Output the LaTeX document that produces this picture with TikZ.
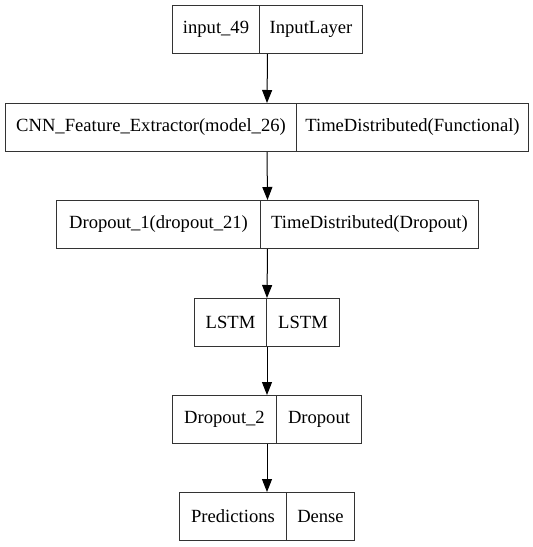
\documentclass[tikz,border=0pt]{standalone}
\usepackage{fontspec}
\setmainfont{Liberation Serif}
\usetikzlibrary{arrows.meta,calc}
\begin{document}
\begin{tikzpicture}[x=1pt,y=-1pt,
  cell/.style={draw=black!80, line width=1pt, minimum height=48pt, inner sep=0pt,
    anchor=north west, font=\fontsize{18.6}{20}\selectfont},
  arr/.style={draw=black, line width=1pt, -{Triangle[length=13pt,width=10pt]}}]
\useasboundingbox (0,0) rectangle (533,547);
% row 1
\node[cell, minimum width=87pt]  (a1) at (172,5) {input\_49};
\node[cell, minimum width=103pt] (a2) at (259,5) {InputLayer};
% row 2
\node[cell, minimum width=291pt] (b1) at (5,103) {CNN\_Feature\_Extractor(model\_26)};
\node[cell, minimum width=232pt] (b2) at (296,103) {TimeDistributed(Functional)};
% row 3
\node[cell, minimum width=204pt] (c1) at (56,200) {Dropout\_1(dropout\_21)};
\node[cell, minimum width=218pt] (c2) at (260,200) {TimeDistributed(Dropout)};
% row 4
\node[cell, minimum width=72pt]  (d1) at (194,298) {LSTM};
\node[cell, minimum width=73pt]  (d2) at (266,298) {LSTM};
% row 5
\node[cell, minimum width=104pt] (e1) at (172,395) {Dropout\_2};
\node[cell, minimum width=85pt]  (e2) at (276,395) {Dropout};
% row 6
\node[cell, minimum width=107pt] (f1) at (179,492) {Predictions};
\node[cell, minimum width=68pt]  (f2) at (286,492) {Dense};
% arrows
\draw[arr] ($(a1.south west)!0.5!(a2.south east)$) -- ($(b1.north west)!0.5!(b2.north east)$);
\draw[arr] ($(b1.south west)!0.5!(b2.south east)$) -- ($(c1.north west)!0.5!(c2.north east)$);
\draw[arr] ($(c1.south west)!0.5!(c2.south east)$) -- ($(d1.north west)!0.5!(d2.north east)$);
\draw[arr] ($(d1.south west)!0.5!(d2.south east)$) -- ($(e1.north west)!0.5!(e2.north east)$);
\draw[arr] ($(e1.south west)!0.5!(e2.south east)$) -- ($(f1.north west)!0.5!(f2.north east)$);
\end{tikzpicture}
\end{document}
